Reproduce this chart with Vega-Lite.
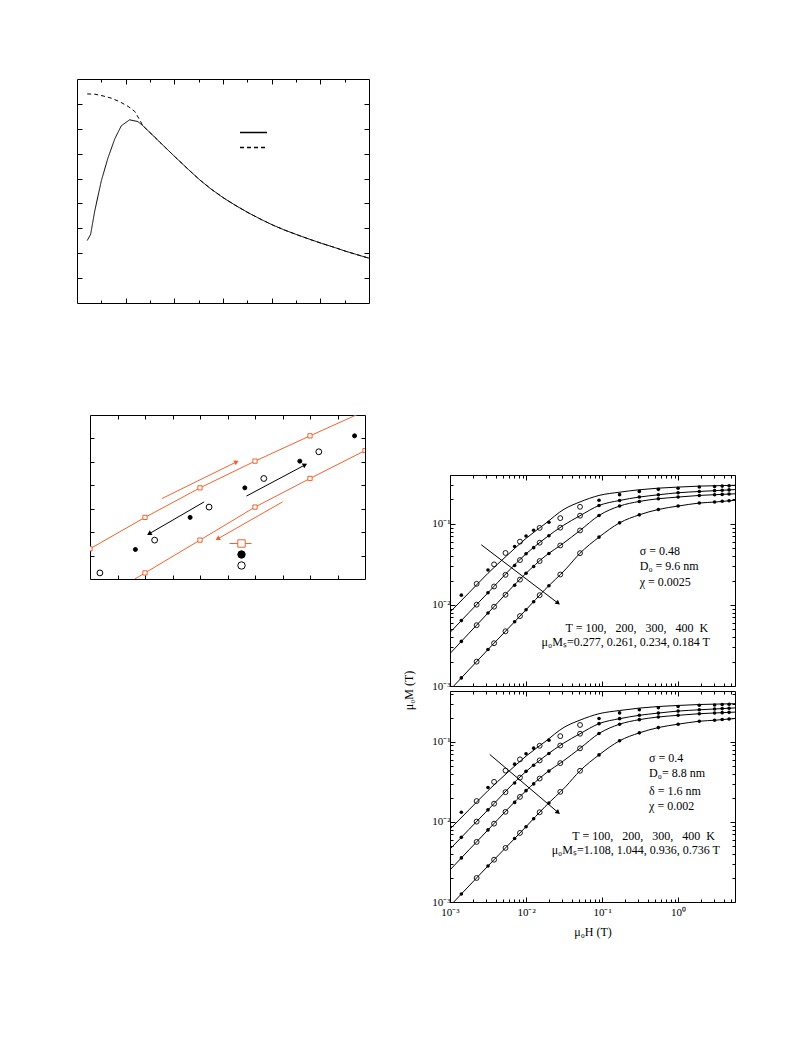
{
  "$schema": "https://vega.github.io/schema/vega-lite/v6.json",
  "background": "white",
  "padding": {"left": 76, "top": 78, "right": 5, "bottom": 5},
  "config": {
    "font": "Liberation Serif",
    "view": {"stroke": "black", "strokeWidth": 1},
    "axis": {"domain": false, "grid": false, "tickColor": "black", "tickWidth": 1, "labelColor": "black", "labelFont": "Liberation Serif", "labelFontSize": 11, "titleFont": "Liberation Serif", "titleFontSize": 12, "titleFontWeight": "normal", "titleColor": "black", "labelFlush": false, "labelOverlap": false}
  },
  "datasets": {
    "tl": [
      {"series": "dashed", "x": 0.42, "y": 8.40}, {"series": "dashed", "x": 0.73, "y": 8.39}, {"series": "dashed", "x": 1.07, "y": 8.32}, {"series": "dashed", "x": 1.41, "y": 8.23}, {"series": "dashed", "x": 1.75, "y": 8.09}, {"series": "dashed", "x": 2.10, "y": 7.90}, {"series": "dashed", "x": 2.37, "y": 7.70}, {"series": "dashed", "x": 2.55, "y": 7.40}, {"series": "dashed", "x": 2.71, "y": 7.12}, {"series": "dashed", "x": 3.05, "y": 6.80}, {"series": "dashed", "x": 3.47, "y": 6.40}, {"series": "dashed", "x": 4.04, "y": 5.86}, {"series": "dashed", "x": 4.56, "y": 5.38}, {"series": "dashed", "x": 5.04, "y": 4.95}, {"series": "dashed", "x": 5.52, "y": 4.57}, {"series": "dashed", "x": 6.04, "y": 4.21}, {"series": "dashed", "x": 6.55, "y": 3.90}, {"series": "dashed", "x": 7.03, "y": 3.63}, {"series": "dashed", "x": 7.58, "y": 3.35}, {"series": "dashed", "x": 8.05, "y": 3.13}, {"series": "dashed", "x": 8.53, "y": 2.93}, {"series": "dashed", "x": 9.05, "y": 2.74}, {"series": "dashed", "x": 9.56, "y": 2.56}, {"series": "dashed", "x": 10.04, "y": 2.40}, {"series": "dashed", "x": 10.59, "y": 2.23}, {"series": "dashed", "x": 11.04, "y": 2.08}, {"series": "dashed", "x": 11.55, "y": 1.93}, {"series": "dashed", "x": 12.0, "y": 1.80},
      {"series": "solid", "x": 0.42, "y": 2.51}, {"series": "solid", "x": 0.56, "y": 2.76}, {"series": "solid", "x": 0.73, "y": 3.70}, {"series": "solid", "x": 1.0, "y": 4.91}, {"series": "solid", "x": 1.27, "y": 5.82}, {"series": "solid", "x": 1.55, "y": 6.59}, {"series": "solid", "x": 1.82, "y": 7.12}, {"series": "solid", "x": 2.16, "y": 7.36}, {"series": "solid", "x": 2.50, "y": 7.29}, {"series": "solid", "x": 2.71, "y": 7.12}, {"series": "solid", "x": 3.05, "y": 6.80}, {"series": "solid", "x": 3.47, "y": 6.40}, {"series": "solid", "x": 4.04, "y": 5.86}, {"series": "solid", "x": 4.56, "y": 5.38}, {"series": "solid", "x": 5.04, "y": 4.95}, {"series": "solid", "x": 5.52, "y": 4.57}, {"series": "solid", "x": 6.04, "y": 4.21}, {"series": "solid", "x": 6.55, "y": 3.90}, {"series": "solid", "x": 7.03, "y": 3.63}, {"series": "solid", "x": 7.58, "y": 3.35}, {"series": "solid", "x": 8.05, "y": 3.13}, {"series": "solid", "x": 8.53, "y": 2.93}, {"series": "solid", "x": 9.05, "y": 2.74}, {"series": "solid", "x": 9.56, "y": 2.56}, {"series": "solid", "x": 10.04, "y": 2.40}, {"series": "solid", "x": 10.59, "y": 2.23}, {"series": "solid", "x": 11.04, "y": 2.08}, {"series": "solid", "x": 11.55, "y": 1.93}, {"series": "solid", "x": 12.0, "y": 1.80}
    ],
    "mlLines": [
      {"series": "model", "line": "A", "x": 0, "y": 1.29}, {"series": "model", "line": "A", "x": 2, "y": 2.63}, {"series": "model", "line": "A", "x": 4, "y": 3.89}, {"series": "model", "line": "A", "x": 6, "y": 5.03}, {"series": "model", "line": "A", "x": 8, "y": 6.11}, {"series": "model", "line": "A", "x": 10, "y": 7.17},
      {"series": "model", "line": "B", "x": 1.63, "y": 0}, {"series": "model", "line": "B", "x": 2, "y": 0.26}, {"series": "model", "line": "B", "x": 4, "y": 1.66}, {"series": "model", "line": "B", "x": 6, "y": 3.07}, {"series": "model", "line": "B", "x": 8, "y": 4.29}, {"series": "model", "line": "B", "x": 10, "y": 5.48}
    ],
    "mlPts": [
      {"kind": "sq", "x": 0, "y": 1.29}, {"kind": "sq", "x": 2, "y": 2.63}, {"kind": "sq", "x": 4, "y": 3.89}, {"kind": "sq", "x": 6, "y": 5.03}, {"kind": "sq", "x": 8, "y": 6.11},
      {"kind": "sq", "x": 2, "y": 0.26}, {"kind": "sq", "x": 4, "y": 1.66}, {"kind": "sq", "x": 6, "y": 3.07}, {"kind": "sq", "x": 8, "y": 4.29}, {"kind": "sq", "x": 10, "y": 5.48},
      {"kind": "filled", "x": 1.65, "y": 1.26}, {"kind": "filled", "x": 3.64, "y": 2.63}, {"kind": "filled", "x": 5.63, "y": 3.89}, {"kind": "filled", "x": 7.63, "y": 5.03}, {"kind": "filled", "x": 9.62, "y": 6.11},
      {"kind": "open", "x": 0.36, "y": 0.26}, {"kind": "open", "x": 2.35, "y": 1.66}, {"kind": "open", "x": 4.33, "y": 3.07}, {"kind": "open", "x": 6.32, "y": 4.29}, {"kind": "open", "x": 8.32, "y": 5.43}
    ],
    "mlArrows": [
      {"kind": "fit", "dir": "up", "x1": 2.61, "y1": 3.43, "x2": 5.33, "y2": 5.0},
      {"kind": "fit", "dir": "down", "x1": 7.0, "y1": 3.29, "x2": 4.64, "y2": 1.71},
      {"kind": "meas", "dir": "down", "x1": 4.15, "y1": 3.29, "x2": 2.15, "y2": 1.93},
      {"kind": "meas", "dir": "up", "x1": 5.69, "y1": 3.54, "x2": 7.82, "y2": 4.87}
    ],
    "fits": [
      {"T": 100, "H": 0.001, "M": 0.00813}, {"T": 100, "H": 0.001778, "M": 0.01413}, {"T": 100, "H": 0.003162, "M": 0.02455}, {"T": 100, "H": 0.005623, "M": 0.04074}, {"T": 100, "H": 0.01, "M": 0.0661}, {"T": 100, "H": 0.01778, "M": 0.1}, {"T": 100, "H": 0.03162, "M": 0.1514}, {"T": 100, "H": 0.0513, "M": 0.1862}, {"T": 100, "H": 0.0912, "M": 0.2239}, {"T": 100, "H": 0.17, "M": 0.2455}, {"T": 100, "H": 0.309, "M": 0.263}, {"T": 100, "H": 0.55, "M": 0.2754}, {"T": 100, "H": 1, "M": 0.2838}, {"T": 100, "H": 1.905, "M": 0.2917}, {"T": 100, "H": 3.162, "M": 0.2951}, {"T": 100, "H": 5.6, "M": 0.2985},
      {"T": 200, "H": 0.001, "M": 0.004571}, {"T": 200, "H": 0.003162, "M": 0.01413}, {"T": 200, "H": 0.01, "M": 0.04266}, {"T": 200, "H": 0.01778, "M": 0.0661}, {"T": 200, "H": 0.0309, "M": 0.0955}, {"T": 200, "H": 0.0513, "M": 0.1259}, {"T": 200, "H": 0.0912, "M": 0.1683}, {"T": 200, "H": 0.17, "M": 0.1941}, {"T": 200, "H": 0.309, "M": 0.2138}, {"T": 200, "H": 0.55, "M": 0.228}, {"T": 200, "H": 1, "M": 0.2415}, {"T": 200, "H": 1.905, "M": 0.2506}, {"T": 200, "H": 3.162, "M": 0.257}, {"T": 200, "H": 5.6, "M": 0.2642},
      {"T": 300, "H": 0.001, "M": 0.002512}, {"T": 300, "H": 0.003162, "M": 0.007943}, {"T": 300, "H": 0.01, "M": 0.02455}, {"T": 300, "H": 0.01778, "M": 0.03981}, {"T": 300, "H": 0.0309, "M": 0.05754}, {"T": 300, "H": 0.0513, "M": 0.0828}, {"T": 300, "H": 0.0912, "M": 0.1268}, {"T": 300, "H": 0.17, "M": 0.1656}, {"T": 300, "H": 0.309, "M": 0.1888}, {"T": 300, "H": 0.55, "M": 0.2037}, {"T": 300, "H": 1, "M": 0.2138}, {"T": 300, "H": 1.905, "M": 0.2239}, {"T": 300, "H": 3.162, "M": 0.2291}, {"T": 300, "H": 5.6, "M": 0.2344},
      {"T": 400, "H": 0.00112, "M": 0.001}, {"T": 400, "H": 0.003162, "M": 0.002818}, {"T": 400, "H": 0.01, "M": 0.00871}, {"T": 400, "H": 0.01778, "M": 0.01549}, {"T": 400, "H": 0.0335, "M": 0.0278}, {"T": 400, "H": 0.0513, "M": 0.04345}, {"T": 400, "H": 0.0912, "M": 0.06855}, {"T": 400, "H": 0.17, "M": 0.1028}, {"T": 400, "H": 0.309, "M": 0.1291}, {"T": 400, "H": 0.55, "M": 0.1503}, {"T": 400, "H": 1, "M": 0.1656}, {"T": 400, "H": 1.905, "M": 0.1803}, {"T": 400, "H": 3.162, "M": 0.1862}, {"T": 400, "H": 5.6, "M": 0.195}
    ],
    "meas": [
      {"T": 100, "kind": "filled", "H": 0.00141, "M": 0.0132}, {"T": 100, "kind": "open", "H": 0.00224, "M": 0.0182}, {"T": 100, "kind": "filled", "H": 0.00316, "M": 0.0269}, {"T": 100, "kind": "open", "H": 0.0038, "M": 0.0316}, {"T": 100, "kind": "open", "H": 0.00537, "M": 0.0437}, {"T": 100, "kind": "filled", "H": 0.00708, "M": 0.0525}, {"T": 100, "kind": "open", "H": 0.00832, "M": 0.0603}, {"T": 100, "kind": "filled", "H": 0.01, "M": 0.0708}, {"T": 100, "kind": "filled", "H": 0.0126, "M": 0.0832}, {"T": 100, "kind": "open", "H": 0.0151, "M": 0.0891}, {"T": 100, "kind": "filled", "H": 0.02, "M": 0.1047}, {"T": 100, "kind": "open", "H": 0.0282, "M": 0.1175}, {"T": 100, "kind": "open", "H": 0.0513, "M": 0.162}, {"T": 100, "kind": "filled", "H": 0.0912, "M": 0.195}, {"T": 100, "kind": "filled", "H": 0.17, "M": 0.229}, {"T": 100, "kind": "filled", "H": 0.309, "M": 0.251}, {"T": 100, "kind": "filled", "H": 0.55, "M": 0.266}, {"T": 100, "kind": "filled", "H": 1.0, "M": 0.275}, {"T": 100, "kind": "filled", "H": 1.9, "M": 0.285}, {"T": 100, "kind": "filled", "H": 3.02, "M": 0.288}, {"T": 100, "kind": "filled", "H": 3.8, "M": 0.292}, {"T": 100, "kind": "filled", "H": 4.68, "M": 0.294},
      {"T": 200, "kind": "filled", "H": 0.00141, "M": 0.00641}, {"T": 200, "kind": "open", "H": 0.00224, "M": 0.01007}, {"T": 200, "kind": "filled", "H": 0.00316, "M": 0.01413}, {"T": 200, "kind": "open", "H": 0.0038, "M": 0.01687}, {"T": 200, "kind": "open", "H": 0.00537, "M": 0.0235}, {"T": 200, "kind": "filled", "H": 0.00708, "M": 0.0306}, {"T": 200, "kind": "open", "H": 0.00832, "M": 0.0357}, {"T": 200, "kind": "filled", "H": 0.01, "M": 0.0427}, {"T": 200, "kind": "filled", "H": 0.0126, "M": 0.0508}, {"T": 200, "kind": "open", "H": 0.0151, "M": 0.0585}, {"T": 200, "kind": "filled", "H": 0.02, "M": 0.0713}, {"T": 200, "kind": "open", "H": 0.0282, "M": 0.0897}, {"T": 200, "kind": "open", "H": 0.0513, "M": 0.1259}, {"T": 200, "kind": "filled", "H": 0.0912, "M": 0.1683}, {"T": 200, "kind": "filled", "H": 0.17, "M": 0.1941}, {"T": 200, "kind": "filled", "H": 0.309, "M": 0.2138}, {"T": 200, "kind": "filled", "H": 0.55, "M": 0.228}, {"T": 200, "kind": "filled", "H": 1.0, "M": 0.2415}, {"T": 200, "kind": "filled", "H": 1.9, "M": 0.2506}, {"T": 200, "kind": "filled", "H": 3.02, "M": 0.2564}, {"T": 200, "kind": "filled", "H": 3.8, "M": 0.2594}, {"T": 200, "kind": "filled", "H": 4.68, "M": 0.2618},
      {"T": 300, "kind": "filled", "H": 0.00141, "M": 0.00355}, {"T": 300, "kind": "open", "H": 0.00224, "M": 0.00562}, {"T": 300, "kind": "filled", "H": 0.00316, "M": 0.00794}, {"T": 300, "kind": "open", "H": 0.0038, "M": 0.0095}, {"T": 300, "kind": "open", "H": 0.00537, "M": 0.01334}, {"T": 300, "kind": "filled", "H": 0.00708, "M": 0.0175}, {"T": 300, "kind": "open", "H": 0.00832, "M": 0.0205}, {"T": 300, "kind": "filled", "H": 0.01, "M": 0.02455}, {"T": 300, "kind": "filled", "H": 0.0126, "M": 0.0298}, {"T": 300, "kind": "open", "H": 0.0151, "M": 0.03475}, {"T": 300, "kind": "filled", "H": 0.02, "M": 0.043}, {"T": 300, "kind": "open", "H": 0.0282, "M": 0.0541}, {"T": 300, "kind": "open", "H": 0.0513, "M": 0.0828}, {"T": 300, "kind": "filled", "H": 0.0912, "M": 0.1268}, {"T": 300, "kind": "filled", "H": 0.17, "M": 0.1656}, {"T": 300, "kind": "filled", "H": 0.309, "M": 0.1888}, {"T": 300, "kind": "filled", "H": 0.55, "M": 0.2037}, {"T": 300, "kind": "filled", "H": 1.0, "M": 0.2138}, {"T": 300, "kind": "filled", "H": 1.9, "M": 0.2239}, {"T": 300, "kind": "filled", "H": 3.02, "M": 0.2286}, {"T": 300, "kind": "filled", "H": 3.8, "M": 0.2307}, {"T": 300, "kind": "filled", "H": 4.68, "M": 0.2328},
      {"T": 400, "kind": "filled", "H": 0.00141, "M": 0.001259}, {"T": 400, "kind": "open", "H": 0.00224, "M": 0.001995}, {"T": 400, "kind": "filled", "H": 0.00316, "M": 0.002818}, {"T": 400, "kind": "open", "H": 0.0038, "M": 0.00337}, {"T": 400, "kind": "open", "H": 0.00537, "M": 0.00473}, {"T": 400, "kind": "filled", "H": 0.00708, "M": 0.00621}, {"T": 400, "kind": "open", "H": 0.00832, "M": 0.00728}, {"T": 400, "kind": "filled", "H": 0.01, "M": 0.00871}, {"T": 400, "kind": "filled", "H": 0.0126, "M": 0.01096}, {"T": 400, "kind": "open", "H": 0.0151, "M": 0.01318}, {"T": 400, "kind": "filled", "H": 0.02, "M": 0.0172}, {"T": 400, "kind": "open", "H": 0.0282, "M": 0.0237}, {"T": 400, "kind": "open", "H": 0.0513, "M": 0.04345}, {"T": 400, "kind": "filled", "H": 0.0912, "M": 0.06855}, {"T": 400, "kind": "filled", "H": 0.17, "M": 0.1028}, {"T": 400, "kind": "filled", "H": 0.309, "M": 0.1291}, {"T": 400, "kind": "filled", "H": 0.55, "M": 0.1503}, {"T": 400, "kind": "filled", "H": 1.0, "M": 0.1656}, {"T": 400, "kind": "filled", "H": 1.9, "M": 0.1803}, {"T": 400, "kind": "filled", "H": 3.02, "M": 0.1858}, {"T": 400, "kind": "filled", "H": 3.8, "M": 0.1897}, {"T": 400, "kind": "filled", "H": 4.68, "M": 0.1923}
    ],
    "rArrows": [
      {"panel": "top", "H1": 0.00258, "M1": 0.0551, "H2": 0.0264, "M2": 0.0105},
      {"panel": "bottom", "H1": 0.00333, "M1": 0.0695, "H2": 0.0264, "M2": 0.0131}
    ]
  },
  "hconcat": [
    {
      "vconcat": [
        {
          "width": 292, "height": 224,
          "data": {"name": "tl"},
          "layer": [
            {
              "transform": [{"filter": "datum.series == 'dashed'"}],
              "mark": {"type": "line", "color": "black", "strokeWidth": 1},
              "encoding": {
                "x": {"field": "x", "type": "quantitative", "scale": {"domain": [0, 12], "nice": false, "zero": false}, "axis": {"orient": "bottom", "values": [1,2,3,4,5,6,7,8,9,10,11], "labels": false, "title": null, "tickSize": {"condition": {"test": "datum.value % 2 == 0", "value": -5}, "value": -3}}},
                "y": {"field": "y", "type": "quantitative", "scale": {"domain": [0, 9], "nice": false}, "axis": {"orient": "left", "values": [1,2,3,4,5,6,7,8], "labels": false, "title": null, "tickSize": -5}},
                "strokeDash": {"field": "series", "type": "nominal", "scale": {"domain": ["solid", "dashed"], "range": [[1, 0], [4, 3]]}, "legend": {"orient": "none", "legendX": 162, "legendY": 46, "title": null, "labelExpr": "''", "symbolType": "stroke", "symbolSize": 729, "symbolStrokeColor": "black", "symbolStrokeWidth": 1.3, "rowPadding": 0, "clipHeight": 15, "labelFontSize": 8}}
              }
            },
            {
              "transform": [{"filter": "datum.series == 'solid'"}],
              "mark": {"type": "line", "color": "black", "strokeWidth": 1},
              "encoding": {
                "x": {"field": "x", "type": "quantitative", "scale": {"domain": [0, 12], "nice": false, "zero": false}, "axis": {"orient": "top", "values": [1,2,3,4,5,6,7,8,9,10,11], "labels": false, "title": null, "tickSize": {"condition": {"test": "datum.value % 2 == 0", "value": -5}, "value": -3}}},
                "y": {"field": "y", "type": "quantitative", "scale": {"domain": [0, 9], "nice": false}, "axis": {"orient": "right", "values": [1,2,3,4,5,6,7,8], "labels": false, "title": null, "tickSize": -5}},
                "strokeDash": {"field": "series", "type": "nominal", "scale": {"domain": ["solid", "dashed"], "range": [[1, 0], [4, 3]]}}
              }
            }
          ],
          "resolve": {"axis": {"x": "independent", "y": "independent"}}
        },
        {
          "hconcat": [
            {"width": 13, "height": 10, "data": {"values": []}, "mark": "point", "view": {"stroke": null}},
            {
              "width": 275, "height": 164,
              "layer": [
                {
                  "data": {"name": "mlLines"},
                  "mark": {"type": "line", "color": "#f0622d", "strokeWidth": 1, "clip": true},
                  "encoding": {
                    "x": {"field": "x", "type": "quantitative", "scale": {"domain": [0, 10], "nice": false}, "axis": {"orient": "bottom", "values": [1,2,3,4,5,6,7,8,9], "labels": false, "title": null, "tickSize": -4}},
                    "y": {"field": "y", "type": "quantitative", "scale": {"domain": [0, 7], "nice": false}, "axis": {"orient": "left", "values": [1,2,3,4,5,6], "labels": false, "title": null, "tickSize": -4}},
                    "detail": {"field": "line", "type": "nominal"},
                    "opacity": {"field": "series", "type": "ordinal", "scale": {"domain": ["model"], "range": [1]}, "legend": {"orient": "none", "legendX": 152, "legendY": 457, "title": null, "labelExpr": "''", "symbolType": "stroke", "symbolSize": 484, "symbolStrokeColor": "#f0622d", "symbolStrokeWidth": 1, "symbolOpacity": 1, "rowPadding": 0, "clipHeight": 15, "labelFontSize": 8}}
                  }
                },
                {
                  "data": {"name": "mlArrows"},
                  "mark": {"type": "rule", "strokeWidth": 1, "clip": true},
                  "encoding": {
                    "x": {"field": "x1", "type": "quantitative", "scale": {"domain": [0, 10], "nice": false}, "axis": null},
                    "y": {"field": "y1", "type": "quantitative", "scale": {"domain": [0, 7], "nice": false}, "axis": null},
                    "x2": {"field": "x2"}, "y2": {"field": "y2"},
                    "color": {"field": "kind", "type": "nominal", "scale": {"domain": ["fit", "meas"], "range": ["#f0622d", "black"]}, "legend": null}
                  }
                },
                {
                  "data": {"name": "mlArrows"},
                  "transform": [{"filter": "datum.dir == 'up'"}],
                  "mark": {"type": "point", "shape": "triangle-right", "angle": 333, "filled": true, "size": 28, "opacity": 1},
                  "encoding": {
                    "x": {"field": "x2", "type": "quantitative", "scale": {"domain": [0, 10], "nice": false}, "axis": null},
                    "y": {"field": "y2", "type": "quantitative", "scale": {"domain": [0, 7], "nice": false}, "axis": null},
                    "color": {"field": "kind", "type": "nominal", "scale": {"domain": ["fit", "meas"], "range": ["#f0622d", "black"]}, "legend": null}
                  }
                },
                {
                  "data": {"name": "mlArrows"},
                  "transform": [{"filter": "datum.dir == 'down'"}],
                  "mark": {"type": "point", "shape": "triangle-right", "angle": 150, "filled": true, "size": 28, "opacity": 1},
                  "encoding": {
                    "x": {"field": "x2", "type": "quantitative", "scale": {"domain": [0, 10], "nice": false}, "axis": null},
                    "y": {"field": "y2", "type": "quantitative", "scale": {"domain": [0, 7], "nice": false}, "axis": null},
                    "color": {"field": "kind", "type": "nominal", "scale": {"domain": ["fit", "meas"], "range": ["#f0622d", "black"]}, "legend": null}
                  }
                },
                {
                  "data": {"name": "mlPts"},
                  "transform": [{"filter": "datum.kind == 'sq'"}],
                  "mark": {"type": "point", "size": 18, "strokeWidth": 1, "opacity": 1, "clip": true},
                  "encoding": {
                    "x": {"field": "x", "type": "quantitative", "scale": {"domain": [0, 10], "nice": false}, "axis": {"orient": "top", "values": [1,2,3,4,5,6,7,8,9], "labels": false, "title": null, "tickSize": -4}},
                    "y": {"field": "y", "type": "quantitative", "scale": {"domain": [0, 7], "nice": false}, "axis": {"orient": "right", "values": [1,2,3,4,5,6], "labels": false, "title": null, "tickSize": -4}},
                    "shape": {"field": "kind", "type": "nominal", "scale": {"domain": ["sq", "filled", "open"], "range": ["square", "circle", "circle"]}, "legend": {"orient": "none", "legendX": 160, "legendY": 460, "title": null, "labelExpr": "''", "symbolSize": 55, "rowPadding": -2, "labelFontSize": 9, "symbolStrokeWidth": 1}},
                    "fill": {"field": "kind", "type": "nominal", "scale": {"domain": ["sq", "filled", "open"], "range": ["white", "black", "transparent"]}},
                    "stroke": {"field": "kind", "type": "nominal", "scale": {"domain": ["sq", "filled", "open"], "range": ["#f0622d", "black", "black"]}}
                  }
                },
                {
                  "data": {"name": "mlPts"},
                  "transform": [{"filter": "datum.kind == 'filled'"}],
                  "mark": {"type": "point", "size": 16, "strokeWidth": 1, "opacity": 1, "clip": true},
                  "encoding": {
                    "x": {"field": "x", "type": "quantitative", "scale": {"domain": [0, 10], "nice": false}, "axis": null},
                    "y": {"field": "y", "type": "quantitative", "scale": {"domain": [0, 7], "nice": false}, "axis": null},
                    "shape": {"field": "kind", "type": "nominal", "scale": {"domain": ["sq", "filled", "open"], "range": ["square", "circle", "circle"]}},
                    "fill": {"field": "kind", "type": "nominal", "scale": {"domain": ["sq", "filled", "open"], "range": ["white", "black", "transparent"]}},
                    "stroke": {"field": "kind", "type": "nominal", "scale": {"domain": ["sq", "filled", "open"], "range": ["#f0622d", "black", "black"]}}
                  }
                },
                {
                  "data": {"name": "mlPts"},
                  "transform": [{"filter": "datum.kind == 'open'"}],
                  "mark": {"type": "point", "size": 34, "strokeWidth": 1, "opacity": 1, "clip": true},
                  "encoding": {
                    "x": {"field": "x", "type": "quantitative", "scale": {"domain": [0, 10], "nice": false}, "axis": null},
                    "y": {"field": "y", "type": "quantitative", "scale": {"domain": [0, 7], "nice": false}, "axis": null},
                    "shape": {"field": "kind", "type": "nominal", "scale": {"domain": ["sq", "filled", "open"], "range": ["square", "circle", "circle"]}},
                    "fill": {"field": "kind", "type": "nominal", "scale": {"domain": ["sq", "filled", "open"], "range": ["white", "black", "transparent"]}},
                    "stroke": {"field": "kind", "type": "nominal", "scale": {"domain": ["sq", "filled", "open"], "range": ["#f0622d", "black", "black"]}}
                  }
                }
              ],
              "resolve": {"axis": {"x": "independent", "y": "independent"}}
            }
          ],
          "spacing": 0,
          "bounds": "flush"
        }
      ],
      "spacing": 110
    },
    {
      "vconcat": [
        {"width": 285, "height": 391, "data": {"values": []}, "mark": "point", "view": {"stroke": null}},
        {
          "width": 285, "height": 211,
          "layer": [
            {
              "data": {"name": "fits"},
              "mark": {"type": "line", "color": "black", "strokeWidth": 1, "interpolate": "monotone", "clip": true},
              "encoding": {
                "x": {"field": "H", "type": "quantitative", "scale": {"type": "log", "domain": [0.001, 5.6], "nice": false}, "axis": {"orient": "bottom", "values": [0.001,0.002,0.003,0.004,0.005,0.006,0.007,0.008,0.009,0.01,0.02,0.03,0.04,0.05,0.06,0.07,0.08,0.09,0.1,0.2,0.3,0.4,0.5,0.6,0.7,0.8,0.9,1,2,3,4,5], "labels": false, "title": null, "tickSize": {"condition": {"test": "datum.value == 0.001 || datum.value == 0.01 || datum.value == 0.1 || datum.value == 1", "value": -5}, "value": -3}}},
                "y": {"field": "M", "type": "quantitative", "scale": {"type": "log", "domain": [0.001, 0.4], "nice": false}, "axis": {"orient": "left", "values": [0.001,0.002,0.003,0.004,0.005,0.006,0.007,0.008,0.009,0.01,0.02,0.03,0.04,0.05,0.06,0.07,0.08,0.09,0.1,0.2,0.3,0.4], "labelExpr": "datum.value == 0.001 ? '10⁻³' : datum.value == 0.01 ? '10⁻²' : datum.value == 0.1 ? '10⁻¹' : ''", "labelColor": "black", "labelPadding": 5, "title": "μ₀M (T)", "titleY": 215, "titleX": -35, "titleAngle": -90, "titleBaseline": "bottom", "titleAlign": "center", "tickSize": {"condition": {"test": "datum.value == 0.001 || datum.value == 0.01 || datum.value == 0.1", "value": -5}, "value": -3}}},
                "detail": {"field": "T", "type": "nominal"}
              }
            },
            {
              "data": {"name": "meas"},
              "transform": [{"filter": "datum.kind == 'open'"}],
              "mark": {"type": "point", "filled": false, "color": "black", "size": 24, "strokeWidth": 0.9, "opacity": 1, "clip": true},
              "encoding": {
                "x": {"field": "H", "type": "quantitative", "scale": {"type": "log", "domain": [0.001, 5.6], "nice": false}, "axis": {"orient": "top", "values": [0.001,0.002,0.003,0.004,0.005,0.006,0.007,0.008,0.009,0.01,0.02,0.03,0.04,0.05,0.06,0.07,0.08,0.09,0.1,0.2,0.3,0.4,0.5,0.6,0.7,0.8,0.9,1,2,3,4,5], "labels": false, "title": null, "tickSize": {"condition": {"test": "datum.value == 0.001 || datum.value == 0.01 || datum.value == 0.1 || datum.value == 1", "value": -5}, "value": -3}}},
                "y": {"field": "M", "type": "quantitative", "scale": {"type": "log", "domain": [0.001, 0.4], "nice": false}, "axis": {"orient": "right", "values": [0.001,0.002,0.003,0.004,0.005,0.006,0.007,0.008,0.009,0.01,0.02,0.03,0.04,0.05,0.06,0.07,0.08,0.09,0.1,0.2,0.3,0.4], "labels": false, "title": null, "tickSize": {"condition": {"test": "datum.value == 0.001 || datum.value == 0.01 || datum.value == 0.1", "value": -5}, "value": -3}}}
              }
            },
            {
              "data": {"name": "meas"},
              "transform": [{"filter": "datum.kind == 'filled'"}],
              "mark": {"type": "circle", "color": "black", "size": 13, "opacity": 1, "clip": true},
              "encoding": {
                "x": {"field": "H", "type": "quantitative", "scale": {"type": "log", "domain": [0.001, 5.6], "nice": false}, "axis": null},
                "y": {"field": "M", "type": "quantitative", "scale": {"type": "log", "domain": [0.001, 0.4], "nice": false}, "axis": null}
              }
            },
            {
              "data": {"name": "rArrows"},
              "transform": [{"filter": "datum.panel == 'top'"}],
              "mark": {"type": "rule", "color": "black", "strokeWidth": 1},
              "encoding": {
                "x": {"field": "H1", "type": "quantitative", "scale": {"type": "log", "domain": [0.001, 5.6], "nice": false}, "axis": null},
                "y": {"field": "M1", "type": "quantitative", "scale": {"type": "log", "domain": [0.001, 0.4], "nice": false}, "axis": null},
                "x2": {"field": "H2"}, "y2": {"field": "M2"}
              }
            },
            {
              "data": {"name": "rArrows"},
              "transform": [{"filter": "datum.panel == 'top'"}],
              "mark": {"type": "point", "shape": "triangle-right", "angle": 38, "filled": true, "color": "black", "size": 28, "opacity": 1},
              "encoding": {
                "x": {"field": "H2", "type": "quantitative", "scale": {"type": "log", "domain": [0.001, 5.6], "nice": false}, "axis": null},
                "y": {"field": "M2", "type": "quantitative", "scale": {"type": "log", "domain": [0.001, 0.4], "nice": false}, "axis": null}
              }
            },
            {
              "data": {"values": [{}]},
              "mark": {"type": "text", "text": "σ = 0.48", "align": "left", "baseline": "middle", "fontSize": 12, "font": "Liberation Serif", "color": "black"},
              "encoding": {
                "x": {"datum": 0.313, "type": "quantitative", "scale": {"type": "log", "domain": [0.001, 5.6], "nice": false}, "axis": null},
                "y": {"datum": 0.0467, "type": "quantitative", "scale": {"type": "log", "domain": [0.001, 0.4], "nice": false}, "axis": null}
              }
            },
            {
              "data": {"values": [{}]},
              "mark": {"type": "text", "text": "D₀ = 9.6 nm", "align": "left", "baseline": "middle", "fontSize": 12, "font": "Liberation Serif", "color": "black"},
              "encoding": {
                "x": {"datum": 0.313, "type": "quantitative", "scale": {"type": "log", "domain": [0.001, 5.6], "nice": false}, "axis": null},
                "y": {"datum": 0.0305, "type": "quantitative", "scale": {"type": "log", "domain": [0.001, 0.4], "nice": false}, "axis": null}
              }
            },
            {
              "data": {"values": [{}]},
              "mark": {"type": "text", "text": "χ = 0.0025", "align": "left", "baseline": "middle", "fontSize": 12, "font": "Liberation Serif", "color": "black"},
              "encoding": {
                "x": {"datum": 0.313, "type": "quantitative", "scale": {"type": "log", "domain": [0.001, 5.6], "nice": false}, "axis": null},
                "y": {"datum": 0.019, "type": "quantitative", "scale": {"type": "log", "domain": [0.001, 0.4], "nice": false}, "axis": null}
              }
            },
            {
              "data": {"values": [{}]},
              "mark": {"type": "text", "text": "T = 100,\u00a0\u00a0\u00a0200,\u00a0\u00a0\u00a0300,\u00a0\u00a0\u00a0400\u00a0\u00a0K", "align": "right", "baseline": "middle", "fontSize": 12, "font": "Liberation Serif", "color": "black"},
              "encoding": {
                "x": {"datum": 2.48, "type": "quantitative", "scale": {"type": "log", "domain": [0.001, 5.6], "nice": false}, "axis": null},
                "y": {"datum": 0.00515, "type": "quantitative", "scale": {"type": "log", "domain": [0.001, 0.4], "nice": false}, "axis": null}
              }
            },
            {
              "data": {"values": [{}]},
              "mark": {"type": "text", "text": "μ₀Mₛ=0.277, 0.261, 0.234, 0.184 T", "align": "right", "baseline": "middle", "fontSize": 12, "font": "Liberation Serif", "color": "black"},
              "encoding": {
                "x": {"datum": 2.61, "type": "quantitative", "scale": {"type": "log", "domain": [0.001, 5.6], "nice": false}, "axis": null},
                "y": {"datum": 0.00353, "type": "quantitative", "scale": {"type": "log", "domain": [0.001, 0.4], "nice": false}, "axis": null}
              }
            }
          ],
          "resolve": {"axis": {"x": "independent", "y": "independent"}}
        },
        {
          "width": 285, "height": 211,
          "layer": [
            {
              "data": {"name": "fits"},
              "mark": {"type": "line", "color": "black", "strokeWidth": 1, "interpolate": "monotone", "clip": true},
              "encoding": {
                "x": {"field": "H", "type": "quantitative", "scale": {"type": "log", "domain": [0.001, 5.6], "nice": false}, "axis": {"orient": "bottom", "values": [0.001,0.002,0.003,0.004,0.005,0.006,0.007,0.008,0.009,0.01,0.02,0.03,0.04,0.05,0.06,0.07,0.08,0.09,0.1,0.2,0.3,0.4,0.5,0.6,0.7,0.8,0.9,1,2,3,4,5], "labelExpr": "datum.value == 0.001 ? '10⁻³' : datum.value == 0.01 ? '10⁻²' : datum.value == 0.1 ? '10⁻¹' : datum.value == 1 ? '10⁰' : ''", "labelColor": "black", "labelPadding": 9, "title": "μ₀H (T)", "titlePadding": 7, "tickSize": {"condition": {"test": "datum.value == 0.001 || datum.value == 0.01 || datum.value == 0.1 || datum.value == 1", "value": -5}, "value": -3}}},
                "y": {"field": "M", "type": "quantitative", "scale": {"type": "log", "domain": [0.001, 0.43], "nice": false}, "axis": {"orient": "left", "values": [0.001,0.002,0.003,0.004,0.005,0.006,0.007,0.008,0.009,0.01,0.02,0.03,0.04,0.05,0.06,0.07,0.08,0.09,0.1,0.2,0.3,0.4], "labelExpr": "datum.value == 0.001 ? '10⁻³' : datum.value == 0.01 ? '10⁻²' : datum.value == 0.1 ? '10⁻¹' : ''", "labelColor": "black", "labelPadding": 5, "title": null, "tickSize": {"condition": {"test": "datum.value == 0.001 || datum.value == 0.01 || datum.value == 0.1", "value": -5}, "value": -3}}},
                "detail": {"field": "T", "type": "nominal"}
              }
            },
            {
              "data": {"name": "meas"},
              "transform": [{"filter": "datum.kind == 'open'"}],
              "mark": {"type": "point", "filled": false, "color": "black", "size": 24, "strokeWidth": 0.9, "opacity": 1, "clip": true},
              "encoding": {
                "x": {"field": "H", "type": "quantitative", "scale": {"type": "log", "domain": [0.001, 5.6], "nice": false}, "axis": {"orient": "top", "values": [0.001,0.002,0.003,0.004,0.005,0.006,0.007,0.008,0.009,0.01,0.02,0.03,0.04,0.05,0.06,0.07,0.08,0.09,0.1,0.2,0.3,0.4,0.5,0.6,0.7,0.8,0.9,1,2,3,4,5], "labels": false, "title": null, "tickSize": {"condition": {"test": "datum.value == 0.001 || datum.value == 0.01 || datum.value == 0.1 || datum.value == 1", "value": -5}, "value": -3}}},
                "y": {"field": "M", "type": "quantitative", "scale": {"type": "log", "domain": [0.001, 0.43], "nice": false}, "axis": {"orient": "right", "values": [0.001,0.002,0.003,0.004,0.005,0.006,0.007,0.008,0.009,0.01,0.02,0.03,0.04,0.05,0.06,0.07,0.08,0.09,0.1,0.2,0.3,0.4], "labels": false, "title": null, "tickSize": {"condition": {"test": "datum.value == 0.001 || datum.value == 0.01 || datum.value == 0.1", "value": -5}, "value": -3}}}
              }
            },
            {
              "data": {"name": "meas"},
              "transform": [{"filter": "datum.kind == 'filled'"}],
              "mark": {"type": "circle", "color": "black", "size": 13, "opacity": 1, "clip": true},
              "encoding": {
                "x": {"field": "H", "type": "quantitative", "scale": {"type": "log", "domain": [0.001, 5.6], "nice": false}, "axis": null},
                "y": {"field": "M", "type": "quantitative", "scale": {"type": "log", "domain": [0.001, 0.43], "nice": false}, "axis": null}
              }
            },
            {
              "data": {"name": "rArrows"},
              "transform": [{"filter": "datum.panel == 'bottom'"}],
              "mark": {"type": "rule", "color": "black", "strokeWidth": 1},
              "encoding": {
                "x": {"field": "H1", "type": "quantitative", "scale": {"type": "log", "domain": [0.001, 5.6], "nice": false}, "axis": null},
                "y": {"field": "M1", "type": "quantitative", "scale": {"type": "log", "domain": [0.001, 0.43], "nice": false}, "axis": null},
                "x2": {"field": "H2"}, "y2": {"field": "M2"}
              }
            },
            {
              "data": {"name": "rArrows"},
              "transform": [{"filter": "datum.panel == 'bottom'"}],
              "mark": {"type": "point", "shape": "triangle-right", "angle": 40, "filled": true, "color": "black", "size": 28, "opacity": 1},
              "encoding": {
                "x": {"field": "H2", "type": "quantitative", "scale": {"type": "log", "domain": [0.001, 5.6], "nice": false}, "axis": null},
                "y": {"field": "M2", "type": "quantitative", "scale": {"type": "log", "domain": [0.001, 0.43], "nice": false}, "axis": null}
              }
            },
            {
              "data": {"values": [{}]},
              "mark": {"type": "text", "text": "σ = 0.4", "align": "left", "baseline": "middle", "fontSize": 12, "font": "Liberation Serif", "color": "black"},
              "encoding": {
                "x": {"datum": 0.415, "type": "quantitative", "scale": {"type": "log", "domain": [0.001, 5.6], "nice": false}, "axis": null},
                "y": {"datum": 0.0619, "type": "quantitative", "scale": {"type": "log", "domain": [0.001, 0.43], "nice": false}, "axis": null}
              }
            },
            {
              "data": {"values": [{}]},
              "mark": {"type": "text", "text": "D₀= 8.8 nm", "align": "left", "baseline": "middle", "fontSize": 12, "font": "Liberation Serif", "color": "black"},
              "encoding": {
                "x": {"datum": 0.415, "type": "quantitative", "scale": {"type": "log", "domain": [0.001, 5.6], "nice": false}, "axis": null},
                "y": {"datum": 0.041, "type": "quantitative", "scale": {"type": "log", "domain": [0.001, 0.43], "nice": false}, "axis": null}
              }
            },
            {
              "data": {"values": [{}]},
              "mark": {"type": "text", "text": "δ = 1.6 nm", "align": "left", "baseline": "middle", "fontSize": 12, "font": "Liberation Serif", "color": "black"},
              "encoding": {
                "x": {"datum": 0.415, "type": "quantitative", "scale": {"type": "log", "domain": [0.001, 5.6], "nice": false}, "axis": null},
                "y": {"datum": 0.0242, "type": "quantitative", "scale": {"type": "log", "domain": [0.001, 0.43], "nice": false}, "axis": null}
              }
            },
            {
              "data": {"values": [{}]},
              "mark": {"type": "text", "text": "χ = 0.002", "align": "left", "baseline": "middle", "fontSize": 12, "font": "Liberation Serif", "color": "black"},
              "encoding": {
                "x": {"datum": 0.415, "type": "quantitative", "scale": {"type": "log", "domain": [0.001, 5.6], "nice": false}, "axis": null},
                "y": {"datum": 0.01574, "type": "quantitative", "scale": {"type": "log", "domain": [0.001, 0.43], "nice": false}, "axis": null}
              }
            },
            {
              "data": {"values": [{}]},
              "mark": {"type": "text", "text": "T = 100,\u00a0\u00a0\u00a0200,\u00a0\u00a0\u00a0300,\u00a0\u00a0\u00a0400\u00a0\u00a0K", "align": "right", "baseline": "middle", "fontSize": 12, "font": "Liberation Serif", "color": "black"},
              "encoding": {
                "x": {"datum": 3.04, "type": "quantitative", "scale": {"type": "log", "domain": [0.001, 5.6], "nice": false}, "axis": null},
                "y": {"datum": 0.00668, "type": "quantitative", "scale": {"type": "log", "domain": [0.001, 0.43], "nice": false}, "axis": null}
              }
            },
            {
              "data": {"values": [{}]},
              "mark": {"type": "text", "text": "μ₀Mₛ=1.108, 1.044, 0.936, 0.736 T", "align": "right", "baseline": "middle", "fontSize": 12, "font": "Liberation Serif", "color": "black"},
              "encoding": {
                "x": {"datum": 3.54, "type": "quantitative", "scale": {"type": "log", "domain": [0.001, 5.6], "nice": false}, "axis": null},
                "y": {"datum": 0.00443, "type": "quantitative", "scale": {"type": "log", "domain": [0.001, 0.43], "nice": false}, "axis": null}
              }
            }
          ],
          "resolve": {"axis": {"x": "independent", "y": "independent"}}
        }
      ],
      "spacing": 5,
      "bounds": "flush"
    }
  ],
  "spacing": 29
}
